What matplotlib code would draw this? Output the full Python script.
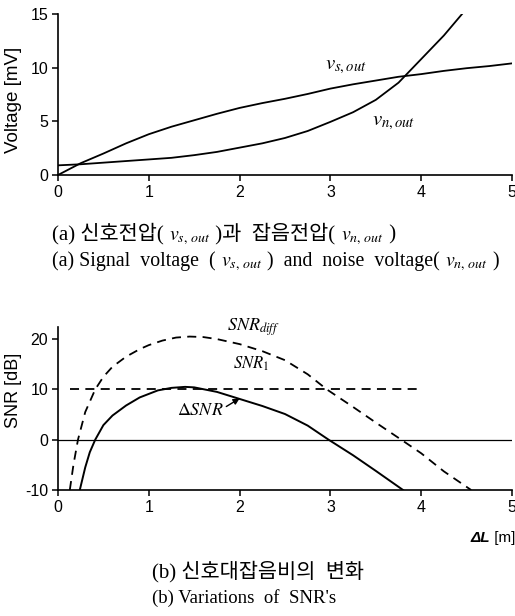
import matplotlib
matplotlib.use('Agg')
import matplotlib.pyplot as plt
from matplotlib.offsetbox import TextArea, HPacker, AnchoredOffsetbox

plt.rcParams['axes.unicode_minus'] = False

# (a) output voltages vs. delta L
dl_s = [0, 0.25, 0.5, 0.75, 1.0, 1.25, 1.5, 1.75, 2.0, 2.25, 2.5, 2.75, 3.0,
        3.25, 3.5, 3.75, 4.0, 4.25, 4.5, 4.75, 5.0]
v_s_out = [0, 1.1, 2.0, 2.95, 3.8, 4.5, 5.1, 5.7, 6.25, 6.7, 7.1, 7.55, 8.05,
           8.45, 8.8, 9.15, 9.4, 9.7, 9.95, 10.15, 10.4]

dl_n = [0, 0.25, 0.5, 0.75, 1.0, 1.25, 1.5, 1.75, 2.0, 2.25, 2.5, 2.75, 3.0,
        3.25, 3.5, 3.75, 4.0, 4.25, 4.45]
v_n_out = [0.9, 1.0, 1.15, 1.3, 1.45, 1.6, 1.85, 2.15, 2.55, 2.95, 3.45, 4.1, 4.95,
           5.85, 7.0, 8.6, 10.8, 13.0, 15.0]

# (b) SNR curves
dl_diff = [0.13, 0.17, 0.22, 0.3, 0.41, 0.5, 0.6, 0.75, 0.9, 1.0, 1.15, 1.3, 1.45,
           1.6, 1.75, 2.0, 2.25, 2.5, 2.75, 2.96, 3.25, 3.5, 3.78, 4.0, 4.25, 4.55]
snr_diff = [-10, -5, 0, 5.5, 10, 12.5, 14.5, 16.5, 18.0, 18.8, 19.7, 20.3, 20.5,
            20.4, 20.0, 19.0, 17.6, 15.8, 13.0, 10, 6.5, 3.4, 0, -2.7, -6.3, -10]

dl_delta = [0.24, 0.3, 0.35, 0.41, 0.5, 0.6, 0.75, 0.9, 1.0, 1.1, 1.25, 1.4, 1.5,
            1.75, 2.0, 2.25, 2.5, 2.75, 2.98, 3.25, 3.5, 3.8]
snr_delta = [-10, -5.5, -2.5, 0, 2.9, 4.8, 6.8, 8.4, 9.1, 9.8, 10.3, 10.5, 10.4,
             9.5, 8.1, 6.7, 5.1, 2.8, 0, -3.1, -6.2, -10]

dl_snr1 = [0.13, 4.0]
snr1 = [10, 10]

W, H = 515, 616
SANS = 'Liberation Sans'
SERIF = 'Liberation Serif'
KR = [SERIF, 'Noto Sans CJK KR']


def style_axes(ax):
    ax.spines['top'].set_visible(False)
    ax.spines['right'].set_visible(False)
    for s in ['left', 'bottom']:
        ax.spines[s].set_linewidth(1.2)
    ax.tick_params(direction='out', length=4, width=1.1, labelsize=11.5, pad=3)
    for lab in ax.get_xticklabels() + ax.get_yticklabels():
        lab.set_family(SANS)


def caption(parts, x, y, kr_size=15, en_size=14.3):
    kids = []
    for txt, kind in parts:
        if kind == 'kr':
            props = dict(family=KR, size=kr_size)
        elif kind == 'math':
            props = dict(math_fontfamily='stix', size=en_size)
        else:
            props = dict(family=SERIF, size=en_size)
        kids.append(TextArea(txt, textprops=props))
    box = HPacker(children=kids, align='baseline', pad=0, sep=0)
    anchored = AnchoredOffsetbox(loc='center left', child=box, pad=0, borderpad=0, frameon=False,
                                 bbox_to_anchor=(x / W, 1 - y / H),
                                 bbox_transform=fig.transFigure)
    fig.add_artist(anchored)


fig = plt.figure(figsize=(W / 100, H / 100), dpi=100)

# Top plot
ax1 = fig.add_axes([58 / W, (H - 175) / H, 454 / W, 161 / H])
ax1.plot(dl_s, v_s_out, color='black', lw=1.3)
ax1.plot(dl_n, v_n_out, color='black', lw=1.3)
ax1.set_xlim(0, 5)
ax1.set_ylim(0, 15)
ax1.set_xticks([0, 1, 2, 3, 4, 5])
ax1.set_yticks([0, 5, 10, 15])
ax1.set_ylabel('Voltage [mV]', family=SANS, fontsize=13.5)
ax1.yaxis.set_label_coords(-0.08, 0.466)
style_axes(ax1)
ax1.text(2.94, 10.2, '$v_{s,out}$', math_fontfamily='stix', fontsize=15, ha='left', va='center')
ax1.text(3.46, 4.9, '$v_{n,out}$', math_fontfamily='stix', fontsize=15, ha='left', va='center')

# Bottom plot
ax2 = fig.add_axes([58 / W, (H - 490) / H, 454 / W, 163 / H])
ax2.plot(dl_diff, snr_diff, color='black', lw=1.3, dashes=(5, 3.5))
ax2.plot(dl_snr1, snr1, color='black', lw=1.3, dashes=(5, 3.5))
ax2.plot(dl_delta, snr_delta, color='black', lw=1.4)
ax2.axhline(0, color='black', lw=0.9)
ax2.set_xlim(0, 5)
ax2.set_ylim(-10, 22.4)
ax2.set_xticks([0, 1, 2, 3, 4, 5])
ax2.set_yticks([-10, 0, 10, 20])
ax2.set_ylabel('SNR [dB]', family=SANS, fontsize=13)
ax2.yaxis.set_label_coords(-0.08, 0.61)
style_axes(ax2)
ax2.text(1.86, 22.4, '$SNR_{diff}$', math_fontfamily='stix', fontsize=13, ha='left', va='center',
         clip_on=False)
ax2.text(1.93, 15.0, '$SNR_1$', math_fontfamily='stix', fontsize=12, ha='left', va='center')
ax2.annotate(r'$\Delta SNR$', xy=(2.0, 8.2), xytext=(1.31, 5.9), math_fontfamily='stix',
             fontsize=13, ha='left', va='center',
             arrowprops=dict(arrowstyle='-|>', color='black', lw=1.0, mutation_scale=9,
                             shrinkA=0, shrinkB=0, relpos=(1.0, 0.6)))

# x label of bottom plot: bold italic delta L + [m]
xl = HPacker(children=[TextArea('ΔL', textprops=dict(family=SANS, size=11, weight='bold', style='italic')),
                       TextArea(' [m]', textprops=dict(family=SANS, size=11))],
             align='baseline', pad=0, sep=0)
fig.add_artist(AnchoredOffsetbox(loc='center right', child=xl, pad=0, borderpad=0, frameon=False,
                                 bbox_to_anchor=(515 / W, 1 - 538 / H),
                                 bbox_transform=fig.transFigure))

# Captions
caption([('(a) 신호전압( ', 'kr'), (r'$v_{s,\,out}$', 'math'), (' )과  잡음전압( ', 'kr'),
         (r'$v_{n,\,out}$', 'math'), (' )', 'kr')], 52, 235)
caption([('(a) Signal  voltage  ( ', 'en'), (r'$v_{s,\,out}$', 'math'),
         (' )  and  noise  voltage( ', 'en'), (r'$v_{n,\,out}$', 'math'), (' )', 'en')], 52, 262)
caption([('(b) 신호대잡음비의  변화', 'kr')], 152, 572)
caption([('(b) Variations  of  SNR\'s', 'en')], 152, 598, en_size=13.5)

fig.savefig('out.png', dpi=100)
